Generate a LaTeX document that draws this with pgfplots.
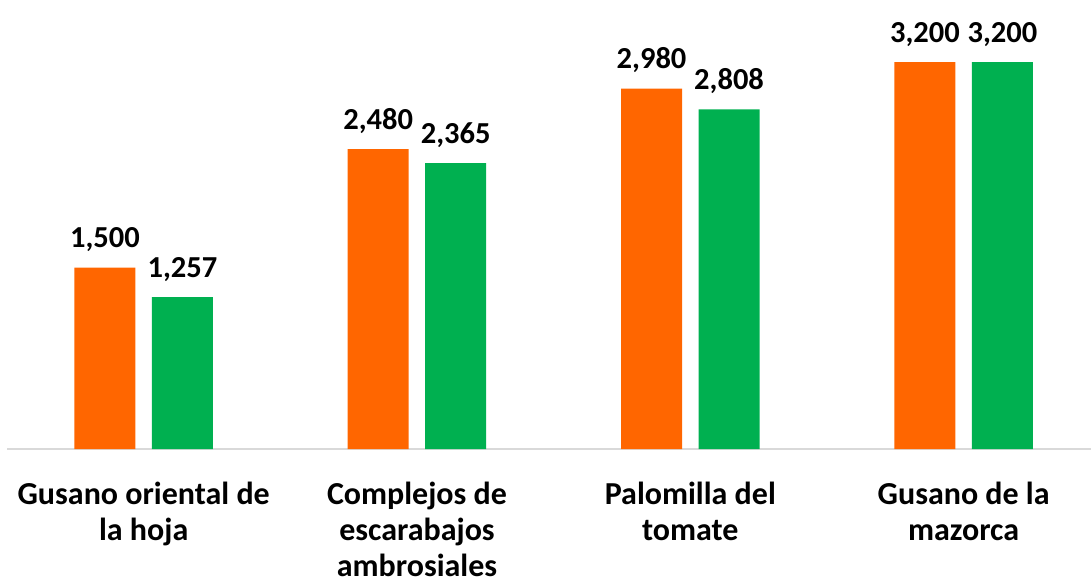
\documentclass[border=0pt]{standalone}
\usepackage{fontspec}
\setmainfont{Carlito}
\usepackage{pgfplots}
\pgfplotsset{compat=1.18}
\definecolor{orng}{HTML}{FF6600}
\definecolor{grn}{HTML}{00B050}
\begin{document}
\begin{tikzpicture}
\begin{axis}[name=ax,
  scale only axis, width=1084pt, height=449pt,
  xmin=-0.5, xmax=3.466, ymin=0, ymax=3713,
  axis x line*=bottom, axis y line=none,
  axis line style={-, draw=black!15, line width=1.5pt},
  xtick={0,1,2,3},
  xticklabels={Gusano oriental de\\la hoja, Complejos de\\escarabajos\\ambrosiales, Palomilla del\\tomate, Gusano de la\\mazorca},
  xtick style={draw=none},
  xticklabel style={align=center, anchor=north, inner sep=0pt, yshift=-29pt, font=\fontsize{32}{36}\selectfont\bfseries},
  ybar, bar width=61pt,
  nodes near coords,
  every node near coord/.append style={font=\fontsize{30.5}{35}\selectfont\bfseries, anchor=base, inner sep=0pt, yshift=20pt, /pgf/number format/assume math mode=true, /pgf/number format/1000 sep={,}},
  clip=false,
]
\addplot[fill=orng, draw=none, bar shift=-38.75pt] coordinates {(0,1500) (1,2480) (2,2980) (3,3200)};
\addplot[fill=grn, draw=none, bar shift=38.75pt] coordinates {(0,1257) (1,2365) (2,2808) (3,3200)};
\end{axis}
\pgfresetboundingbox
\path[use as bounding box] ([xshift=-7pt,yshift=-130pt]ax.south west) rectangle (ax.north east);
\end{tikzpicture}
\end{document}
